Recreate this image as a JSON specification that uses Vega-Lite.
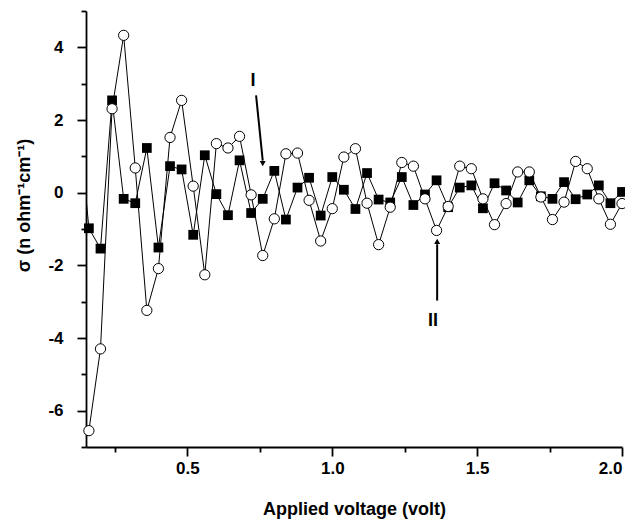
{
  "$schema": "https://vega.github.io/schema/vega-lite/v6.json",
  "width": 536,
  "height": 436,
  "autosize": {"type": "none"},
  "padding": {"left": 86, "top": 11, "right": 3, "bottom": 77},
  "background": "white",
  "config": {
    "view": {"stroke": null},
    "font": "Liberation Sans",
    "axis": {
      "grid": false,
      "domainColor": "black",
      "domainWidth": 1.8,
      "tickColor": "black",
      "tickWidth": 1.8,
      "labelColor": "black",
      "labelFont": "Liberation Sans",
      "labelFontSize": 17,
      "labelFontWeight": "bold",
      "titleColor": "black",
      "titleFont": "Liberation Sans",
      "titleFontSize": 18,
      "titleFontWeight": "bold"
    }
  },
  "datasets": {
    "pts": [
      {"x": 0.12, "y": 2.4, "s": "I"},
      {"x": 0.16, "y": -0.98, "s": "I"},
      {"x": 0.20, "y": -1.54, "s": "I"},
      {"x": 0.24, "y": 2.54, "s": "I"},
      {"x": 0.28, "y": -0.17, "s": "I"},
      {"x": 0.32, "y": -0.29, "s": "I"},
      {"x": 0.36, "y": 1.23, "s": "I"},
      {"x": 0.40, "y": -1.51, "s": "I"},
      {"x": 0.44, "y": 0.73, "s": "I"},
      {"x": 0.48, "y": 0.64, "s": "I"},
      {"x": 0.52, "y": -1.16, "s": "I"},
      {"x": 0.56, "y": 1.03, "s": "I"},
      {"x": 0.60, "y": -0.04, "s": "I"},
      {"x": 0.64, "y": -0.62, "s": "I"},
      {"x": 0.68, "y": 0.89, "s": "I"},
      {"x": 0.72, "y": -0.56, "s": "I"},
      {"x": 0.76, "y": -0.17, "s": "I"},
      {"x": 0.80, "y": 0.60, "s": "I"},
      {"x": 0.84, "y": -0.74, "s": "I"},
      {"x": 0.88, "y": 0.14, "s": "I"},
      {"x": 0.92, "y": 0.41, "s": "I"},
      {"x": 0.96, "y": -0.63, "s": "I"},
      {"x": 1.00, "y": 0.43, "s": "I"},
      {"x": 1.04, "y": 0.08, "s": "I"},
      {"x": 1.08, "y": -0.45, "s": "I"},
      {"x": 1.12, "y": 0.54, "s": "I"},
      {"x": 1.16, "y": -0.19, "s": "I"},
      {"x": 1.20, "y": -0.27, "s": "I"},
      {"x": 1.24, "y": 0.43, "s": "I"},
      {"x": 1.28, "y": -0.34, "s": "I"},
      {"x": 1.32, "y": -0.05, "s": "I"},
      {"x": 1.36, "y": 0.34, "s": "I"},
      {"x": 1.40, "y": -0.40, "s": "I"},
      {"x": 1.44, "y": 0.14, "s": "I"},
      {"x": 1.48, "y": 0.20, "s": "I"},
      {"x": 1.52, "y": -0.43, "s": "I"},
      {"x": 1.56, "y": 0.26, "s": "I"},
      {"x": 1.60, "y": 0.06, "s": "I"},
      {"x": 1.64, "y": -0.27, "s": "I"},
      {"x": 1.68, "y": 0.34, "s": "I"},
      {"x": 1.72, "y": -0.10, "s": "I"},
      {"x": 1.76, "y": -0.17, "s": "I"},
      {"x": 1.80, "y": 0.29, "s": "I"},
      {"x": 1.84, "y": -0.18, "s": "I"},
      {"x": 1.88, "y": -0.05, "s": "I"},
      {"x": 1.92, "y": 0.20, "s": "I"},
      {"x": 1.96, "y": -0.29, "s": "I"},
      {"x": 2.00, "y": 0.02, "s": "I"},
      {"x": 0.16, "y": -6.55, "s": "II"},
      {"x": 0.20, "y": -4.30, "s": "II"},
      {"x": 0.24, "y": 2.31, "s": "II"},
      {"x": 0.28, "y": 4.33, "s": "II"},
      {"x": 0.32, "y": 0.68, "s": "II"},
      {"x": 0.36, "y": -3.24, "s": "II"},
      {"x": 0.40, "y": -2.09, "s": "II"},
      {"x": 0.44, "y": 1.52, "s": "II"},
      {"x": 0.48, "y": 2.54, "s": "II"},
      {"x": 0.52, "y": 0.18, "s": "II"},
      {"x": 0.56, "y": -2.26, "s": "II"},
      {"x": 0.60, "y": 1.35, "s": "II"},
      {"x": 0.64, "y": 1.23, "s": "II"},
      {"x": 0.68, "y": 1.55, "s": "II"},
      {"x": 0.72, "y": -0.06, "s": "II"},
      {"x": 0.76, "y": -1.73, "s": "II"},
      {"x": 0.80, "y": -0.72, "s": "II"},
      {"x": 0.84, "y": 1.07, "s": "II"},
      {"x": 0.88, "y": 1.09, "s": "II"},
      {"x": 0.92, "y": -0.21, "s": "II"},
      {"x": 0.96, "y": -1.33, "s": "II"},
      {"x": 1.00, "y": -0.44, "s": "II"},
      {"x": 1.04, "y": 0.98, "s": "II"},
      {"x": 1.08, "y": 1.21, "s": "II"},
      {"x": 1.12, "y": -0.29, "s": "II"},
      {"x": 1.16, "y": -1.43, "s": "II"},
      {"x": 1.20, "y": -0.40, "s": "II"},
      {"x": 1.24, "y": 0.83, "s": "II"},
      {"x": 1.28, "y": 0.73, "s": "II"},
      {"x": 1.32, "y": -0.17, "s": "II"},
      {"x": 1.36, "y": -1.04, "s": "II"},
      {"x": 1.40, "y": -0.38, "s": "II"},
      {"x": 1.44, "y": 0.73, "s": "II"},
      {"x": 1.48, "y": 0.66, "s": "II"},
      {"x": 1.52, "y": -0.17, "s": "II"},
      {"x": 1.56, "y": -0.88, "s": "II"},
      {"x": 1.60, "y": -0.30, "s": "II"},
      {"x": 1.64, "y": 0.57, "s": "II"},
      {"x": 1.68, "y": 0.57, "s": "II"},
      {"x": 1.72, "y": -0.12, "s": "II"},
      {"x": 1.76, "y": -0.74, "s": "II"},
      {"x": 1.80, "y": -0.26, "s": "II"},
      {"x": 1.84, "y": 0.86, "s": "II"},
      {"x": 1.88, "y": 0.66, "s": "II"},
      {"x": 1.92, "y": -0.17, "s": "II"},
      {"x": 1.96, "y": -0.87, "s": "II"},
      {"x": 2.00, "y": -0.30, "s": "II"}
    ],
    "arrows": [
      {"x": 0.737, "y": 2.68, "xe": 0.760, "ye": 0.88},
      {"x": 1.362, "y": -2.97, "xe": 1.362, "ye": -1.42}
    ],
    "heads": [
      {"x": 0.760, "y": 0.80, "sh": "triangle-down"},
      {"x": 1.362, "y": -1.34, "sh": "triangle-up"}
    ],
    "labels": [
      {"x": 0.726, "y": 3.08, "t": "I"},
      {"x": 1.348, "y": -3.52, "t": "II"}
    ]
  },
  "encoding": {
    "x": {
      "field": "x",
      "type": "quantitative",
      "scale": {"domain": [0.15, 2.0], "nice": false, "zero": false},
      "axis": {
        "values": [0.25, 0.5, 0.75, 1, 1.25, 1.5, 1.75, 2],
        "labelExpr": "(datum.value * 2) % 1 === 0 ? format(datum.value, '.1f') : ''",
        "tickSize": {"condition": {"test": "(datum.value * 2) % 1 === 0", "value": 9}, "value": 5},
        "labelPadding": 4,
        "title": "Applied voltage (volt)",
        "titleY": 53,
        "titleBaseline": "top"
      }
    },
    "y": {
      "field": "y",
      "type": "quantitative",
      "scale": {"domain": [-7, 5], "nice": false, "zero": false},
      "axis": {
        "values": [-7, -6, -5, -4, -3, -2, -1, 0, 1, 2, 3, 4, 5],
        "labelExpr": "datum.value % 2 === 0 ? '' + datum.value : ''",
        "tickSize": {"condition": {"test": "datum.value % 2 === 0", "value": 9}, "value": 5},
        "labelPadding": 14,
        "title": "σ (n ohm⁻¹cm⁻¹)",
        "titleX": -62,
        "titleY": 194,
        "titleAngle": -90,
        "titleAlign": "center",
        "titleBaseline": "middle"
      }
    }
  },
  "layer": [
    {
      "data": {"name": "pts"},
      "transform": [{"filter": "datum.s === 'I'"}],
      "mark": {"type": "line", "color": "black", "strokeWidth": 1, "clip": true}
    },
    {
      "data": {"name": "pts"},
      "transform": [{"filter": "datum.s === 'II'"}],
      "mark": {"type": "line", "color": "black", "strokeWidth": 1, "clip": true}
    },
    {
      "data": {"name": "pts"},
      "transform": [{"filter": "datum.s === 'I' && datum.x >= 0.15"}],
      "mark": {"type": "point", "shape": "square", "filled": true, "color": "black", "size": 95, "opacity": 1}
    },
    {
      "data": {"name": "pts"},
      "transform": [{"filter": "datum.s === 'II'"}],
      "mark": {"type": "point", "shape": "circle", "filled": true, "fill": "white", "stroke": "black", "strokeWidth": 1, "size": 105, "opacity": 1}
    },
    {
      "data": {"name": "arrows"},
      "mark": {"type": "rule", "color": "black", "strokeWidth": 2},
      "encoding": {
        "x2": {"field": "xe"},
        "y2": {"field": "ye"}
      }
    },
    {
      "data": {"name": "heads"},
      "mark": {"type": "point", "filled": true, "color": "black", "size": 35, "opacity": 1},
      "encoding": {
        "shape": {"field": "sh", "type": "nominal", "scale": null}
      }
    },
    {
      "data": {"name": "labels"},
      "mark": {"type": "text", "font": "Liberation Sans", "fontSize": 18, "fontWeight": "bold", "color": "black", "align": "center", "baseline": "middle"},
      "encoding": {
        "text": {"field": "t"}
      }
    }
  ]
}
